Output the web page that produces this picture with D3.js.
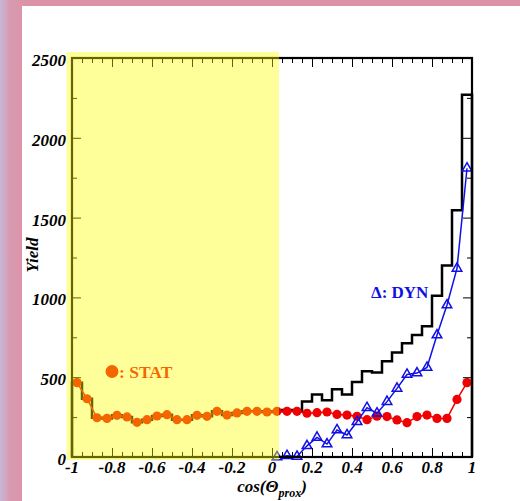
<!DOCTYPE html>
<html>
<head>
<meta charset="utf-8">
<script src="https://cdn.jsdelivr.net/npm/d3@7"></script>
<style>
  html, body { margin: 0; padding: 0; background: #fff; }
  svg { display: block; }
  text { font-family: "Liberation Serif", "DejaVu Serif", serif; }
</style>
</head>
<body>
<svg id="chart" width="520" height="501"></svg>
<script>
// Bin centres of cos(theta_prox), bin width 0.05
const binCenters = [
  -0.975, -0.925, -0.875, -0.825, -0.775, -0.725, -0.675, -0.625, -0.575, -0.525,
  -0.475, -0.425, -0.375, -0.325, -0.275, -0.225, -0.175, -0.125, -0.075, -0.025,
   0.025,  0.075,  0.125,  0.175,  0.225,  0.275,  0.325,  0.375,  0.425,  0.475,
   0.525,  0.575,  0.625,  0.675,  0.725,  0.775,  0.825,  0.875,  0.925,  0.975
];
const binHalfWidth = 0.025;

// Total yield (black histogram)
const totalYield = [
  466, 365, 246, 242, 261, 251, 217, 234, 257, 265,
  234, 234, 261, 255, 286, 263, 276, 286, 286, 282,
  286, 294, 289, 347, 392, 355, 425, 392, 470, 538,
  530, 600, 655, 712, 765, 820, 1010, 1200, 1546, 2270
];

// Statistical component (red circles)
const statYield = [
  466, 365, 246, 242, 261, 251, 217, 234, 257, 265,
  234, 234, 261, 255, 286, 263, 276, 286, 286, 282,
  286, 286, 286, 274, 278, 282, 267, 263, 255, 234,
  256, 253, 232, 215, 253, 263, 242, 242, 361, 466
];

// Dynamical component (blue triangles), forward hemisphere only
const dynCenters = [
   0.025,  0.075,  0.125,  0.175,  0.225,  0.275,  0.325,  0.375,  0.425,  0.475,
   0.525,  0.575,  0.625,  0.675,  0.725,  0.775,  0.825,  0.875,  0.925,  0.975
];
const dynYield = [
  0, 8, 3, 70, 123, 81, 169, 138, 221, 309,
  274, 347, 430, 517, 526, 561, 764, 952, 1182, 1809
];

// Axis ticks
const xMajorTicks = [-1, -0.8, -0.6, -0.4, -0.2, 0, 0.2, 0.4, 0.6, 0.8, 1];
const xTickLabels = ["-1", "-0.8", "-0.6", "-0.4", "-0.2", "0", "0.2", "0.4", "0.6", "0.8", "1"];
const yMajorTicks = [0, 500, 1000, 1500, 2000, 2500];
const yTickLabels = ["0", "500", "1000", "1500", "2000", "2500"];
const yMinorTicks = [250, 750, 1250, 1750, 2250];

// Shaded backward region
const shadedRange = [-1.025, 0.035];

const svg = d3.select("#chart");
const W = 520, H = 501;

// Page backdrop
const defs = svg.append("defs");
const grad = defs.append("linearGradient").attr("id", "edge").attr("x1", 0).attr("x2", 1).attr("y1", 0).attr("y2", 0);
grad.append("stop").attr("offset", "0%").attr("stop-color", "#c6b8d8");
grad.append("stop").attr("offset", "40%").attr("stop-color", "#d89ab0");
grad.append("stop").attr("offset", "100%").attr("stop-color", "#dc93a8");
svg.append("rect").attr("width", W).attr("height", H).attr("fill", "#dd93a7");
svg.append("rect").attr("width", 24).attr("height", H).attr("fill", "url(#edge)");
svg.append("rect").attr("x", 22).attr("y", 6).attr("width", W - 22).attr("height", H - 6).attr("fill", "#ffffff");

const x = d3.scaleLinear().domain([-1, 1]).range([72, 472]);
const y = d3.scaleLinear().domain([0, 2500]).range([457, 58]);

const plot = svg.append("g");

// Black histogram outline
const histPts = [[-1, 0]];
binCenters.forEach((c, i) => {
  histPts.push([c - binHalfWidth, totalYield[i]]);
  histPts.push([c + binHalfWidth, totalYield[i]]);
});
histPts.push([1, 0]);
plot.append("path")
  .attr("d", d3.line().x(d => x(d[0])).y(d => y(d[1]))(histPts))
  .attr("fill", "none").attr("stroke", "#000").attr("stroke-width", 2.5)
  .attr("stroke-linejoin", "miter");

// Red: statistical
const red = "#f00000";
plot.append("path")
  .attr("d", d3.line().x((d, i) => x(binCenters[i])).y(d => y(d))(statYield))
  .attr("fill", "none").attr("stroke", red).attr("stroke-width", 1.5);
plot.selectAll("circle.stat").data(statYield).join("circle")
  .attr("class", "stat")
  .attr("cx", (d, i) => x(binCenters[i])).attr("cy", d => y(d))
  .attr("r", 4.6).attr("fill", red);

// Blue: dynamical
const blue = "#1010e6";
plot.append("path")
  .attr("d", d3.line().x((d, i) => x(dynCenters[i])).y(d => y(d))(dynYield))
  .attr("fill", "none").attr("stroke", blue).attr("stroke-width", 1.5);
const tri = d3.symbol().type(d3.symbolTriangle).size(40);
plot.selectAll("path.dyn").data(dynYield).join("path")
  .attr("class", "dyn")
  .attr("d", tri)
  .attr("transform", (d, i) => `translate(${x(dynCenters[i])},${y(d)})`)
  .attr("fill", "none").attr("stroke", blue).attr("stroke-width", 1.5);

// Legend entries
plot.append("circle").attr("cx", 112).attr("cy", 371.5).attr("r", 6.5).attr("fill", red);
plot.append("text").attr("x", 119).attr("y", 377.5)
  .attr("font-size", 17.5).attr("font-weight", "bold").attr("fill", red)
  .text(": STAT");
plot.append("text").attr("x", 371).attr("y", 298)
  .attr("font-size", 17).attr("font-weight", "bold").attr("fill", blue)
  .text("\u0394: DYN");

// Frame and inward ticks on all four sides
const axes = svg.append("g");
function styleTicks(g) {
  g.select(".domain").remove();
  g.selectAll(".tick line").attr("stroke", "#000").attr("stroke-width", 1);
}
const xMinor = binCenters.map(c => c - binHalfWidth).filter(v => !xMajorTicks.some(m => Math.abs(m - v) < 1e-6));

axes.append("g").attr("transform", `translate(0,${y(0)})`)
  .call(d3.axisBottom(x).tickValues(xMinor).tickSize(-5).tickFormat(""))
  .call(styleTicks);
axes.append("g").attr("transform", `translate(0,${y(2500)})`)
  .call(d3.axisTop(x).tickValues(xMinor).tickSize(-5).tickFormat(""))
  .call(styleTicks);
axes.append("g").attr("transform", `translate(0,${y(2500)})`)
  .call(d3.axisTop(x).tickValues(xMajorTicks).tickSize(-9).tickFormat(""))
  .call(styleTicks);
axes.append("g").attr("transform", `translate(${x(-1)},0)`)
  .call(d3.axisLeft(y).tickValues(yMinorTicks).tickSize(-5).tickFormat(""))
  .call(styleTicks);
axes.append("g").attr("transform", `translate(${x(1)},0)`)
  .call(d3.axisRight(y).tickValues(yMinorTicks).tickSize(-5).tickFormat(""))
  .call(styleTicks);
axes.append("g").attr("transform", `translate(${x(1)},0)`)
  .call(d3.axisRight(y).tickValues(yMajorTicks).tickSize(-9).tickFormat(""))
  .call(styleTicks);

axes.append("g").attr("transform", `translate(0,${y(0)})`)
  .call(d3.axisBottom(x).tickValues(xMajorTicks).tickSize(-9).tickFormat(""))
  .call(styleTicks);
axes.append("g").attr("transform", `translate(${x(-1)},0)`)
  .call(d3.axisLeft(y).tickValues(yMajorTicks).tickSize(-9).tickFormat(""))
  .call(styleTicks);

axes.append("rect")
  .attr("x", x(-1)).attr("y", y(2500))
  .attr("width", x(1) - x(-1)).attr("height", y(0) - y(2500))
  .attr("fill", "none").attr("stroke", "#000").attr("stroke-width", 2.2);

// Translucent yellow band over the backward hemisphere
svg.append("rect")
  .attr("x", x(shadedRange[0]) - 0.5).attr("y", 52)
  .attr("width", x(shadedRange[1]) - x(shadedRange[0]) + 0.5)
  .attr("height", 460 - 52)
  .attr("fill", "#ffff00").attr("fill-opacity", 0.4);

// Tick labels and titles drawn above the band
const labels = svg.append("g")
  .attr("font-size", 17).attr("font-weight", "bold").attr("font-style", "italic").attr("fill", "#000");
labels.selectAll("text.xl").data(xMajorTicks).join("text")
  .attr("class", "xl")
  .attr("x", d => x(d)).attr("y", y(0) + 15.5)
  .attr("text-anchor", "middle")
  .text((d, i) => xTickLabels[i]);
labels.selectAll("text.yl").data(yMajorTicks).join("text")
  .attr("class", "yl")
  .attr("x", x(-1) - 6).attr("y", d => y(d) + 8)
  .attr("text-anchor", "end")
  .text((d, i) => yTickLabels[i]);

// Axis titles
const xt = labels.append("text").attr("x", 272).attr("y", 491.5).attr("text-anchor", "middle");
xt.append("tspan").text("cos(\u0398");
xt.append("tspan").attr("font-size", 12).attr("dy", 5).text("prox");
xt.append("tspan").attr("dy", -5).text(")");

labels.append("text")
  .attr("transform", "translate(38,255) rotate(-90)")
  .attr("text-anchor", "middle")
  .text("Yield");
</script>
</body>
</html>
